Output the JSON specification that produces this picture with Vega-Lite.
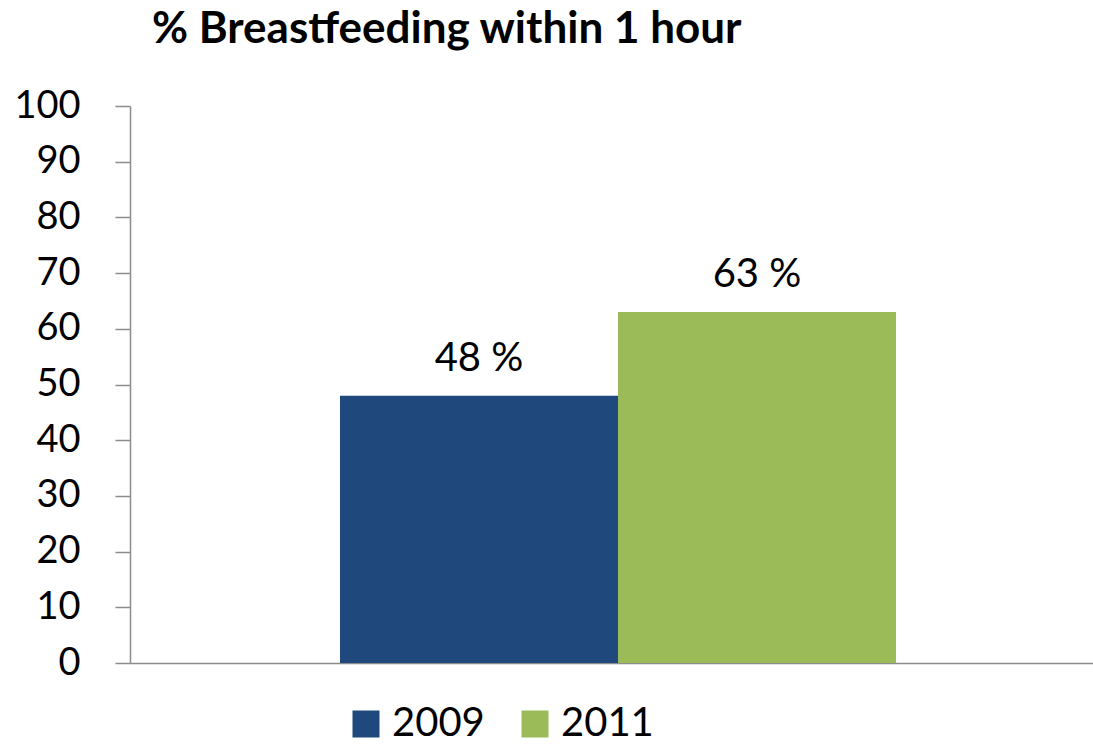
{
  "$schema": "https://vega.github.io/schema/vega-lite/v6.json",
  "width": 963,
  "height": 557,
  "autosize": {"type": "none"},
  "padding": {"left": 130, "top": 106, "right": 0, "bottom": 82},
  "background": "white",
  "config": {
    "font": "Lato",
    "view": {"stroke": null}
  },
  "title": {
    "text": "% Breastfeeding within 1 hour",
    "anchor": "start",
    "frame": "group",
    "dx": 22,
    "offset": 35,
    "fontSize": 44,
    "fontWeight": "bold",
    "font": "Lato",
    "color": "black"
  },
  "data": {
    "values": [
      {"year": "2009", "value": 48, "label": "48 %"},
      {"year": "2011", "value": 63, "label": "63 %"}
    ]
  },
  "encoding": {
    "x": {
      "field": "year",
      "type": "nominal",
      "scale": {"paddingInner": 0, "paddingOuter": 0.732, "align": 0.516},
      "axis": {
        "title": null,
        "labels": false,
        "ticks": false,
        "domainColor": "#8c8c8c",
        "domainWidth": 1.5
      }
    },
    "y": {
      "field": "value",
      "type": "quantitative",
      "scale": {"domain": [0, 100], "nice": false},
      "axis": {
        "title": null,
        "values": [0, 10, 20, 30, 40, 50, 60, 70, 80, 90, 100],
        "grid": false,
        "domainColor": "#8c8c8c",
        "domainWidth": 1.5,
        "tickColor": "#8c8c8c",
        "tickWidth": 1.5,
        "tickSize": 15,
        "labelPadding": 35,
        "labelFontSize": 38,
        "labelColor": "black",
        "labelFont": "Lato"
      }
    }
  },
  "layer": [
    {
      "mark": {"type": "bar"},
      "encoding": {
        "color": {
          "field": "year",
          "type": "nominal",
          "scale": {"domain": ["2009", "2011"], "range": ["#1F497D", "#9BBB59"]},
          "legend": {
            "title": null,
            "orient": "none",
            "direction": "horizontal",
            "legendX": 216,
            "legendY": 598,
            "symbolType": "square",
            "symbolSize": 729,
            "symbolStrokeWidth": 0,
            "labelFontSize": 40,
            "labelFont": "Lato",
            "labelColor": "black",
            "labelOffset": 6,
            "columnPadding": 30
          }
        }
      }
    },
    {
      "mark": {"type": "text", "baseline": "bottom", "dy": -17, "fontSize": 40, "font": "Lato", "color": "black"},
      "encoding": {
        "text": {"field": "label", "type": "nominal"}
      }
    }
  ]
}
